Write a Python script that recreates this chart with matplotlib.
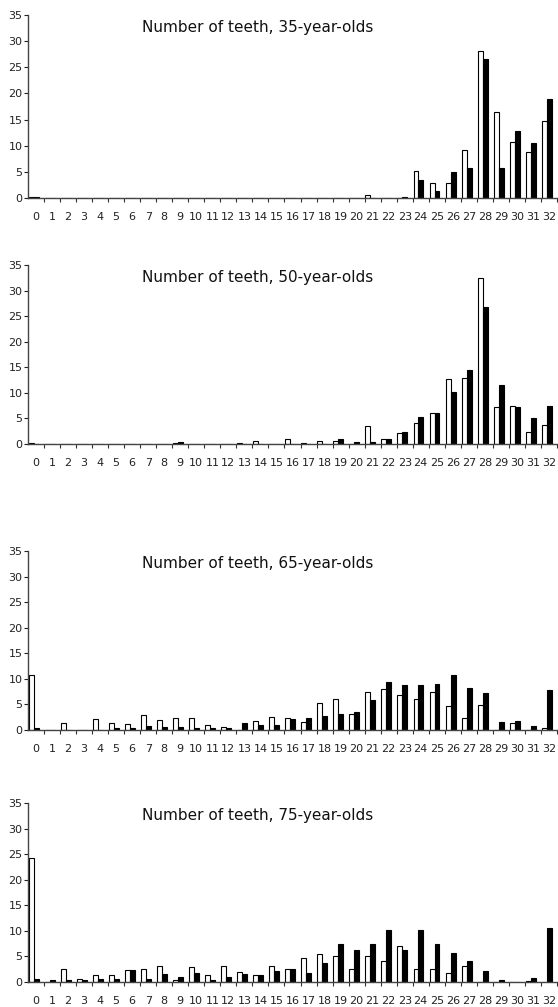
import matplotlib.pyplot as plt
import numpy as np

# number of remaining teeth, 0..32
teeth = list(range(33))
tick_labels = [str(t) for t in teeth]
titles = ['Number of teeth, 35-year-olds', 'Number of teeth, 50-year-olds',
          'Number of teeth, 65-year-olds', 'Number of teeth, 75-year-olds']

# percent of group, open bars and filled bars
w35 = [0.2, 0, 0, 0, 0, 0, 0, 0, 0, 0, 0, 0, 0, 0, 0, 0, 0, 0, 0, 0, 0,
       0.5, 0, 0, 5.1, 2.8, 2.8, 9.1, 28.2, 16.5, 10.8, 8.8, 14.8]
b35 = [0.2, 0, 0, 0, 0, 0, 0, 0, 0, 0, 0, 0, 0, 0, 0, 0, 0, 0, 0, 0, 0,
       0, 0, 0.2, 3.4, 1.4, 4.9, 5.7, 26.6, 5.7, 12.9, 10.6, 18.9]

w50 = [0.2, 0, 0, 0, 0, 0, 0, 0, 0, 0.2, 0, 0, 0, 0.2, 0.6, 0, 0.9, 0.2, 0.6, 0.6, 0,
       3.5, 0.9, 2.1, 4.1, 6.1, 12.7, 13.0, 32.4, 7.2, 7.5, 2.3, 3.8]
b50 = [0, 0, 0, 0, 0, 0, 0, 0, 0, 0.3, 0, 0, 0, 0, 0, 0, 0, 0, 0, 0.9, 0.3,
       0.3, 0.9, 2.4, 5.2, 6.1, 10.1, 14.5, 26.7, 11.6, 7.2, 5.0, 7.5]

w65 = [10.7, 0, 1.4, 0, 2.1, 1.4, 1.1, 2.9, 1.9, 2.3, 2.3, 1.0, 0.6, 0, 1.8, 2.6, 2.3,
       1.6, 5.2, 6.0, 3.1, 7.5, 8.1, 6.9, 6.0, 7.5, 4.7, 2.3, 4.9, 0, 1.4, 0, 0.3]
b65 = [0.3, 0, 0, 0, 0, 0.3, 0.3, 0.8, 0.6, 0.5, 0.3, 0.3, 0.3, 1.3, 1.0, 0.9, 2.1,
       2.3, 2.7, 3.2, 3.5, 5.8, 9.4, 8.8, 8.8, 9.0, 10.7, 8.2, 7.3, 1.5, 1.7, 0.8, 7.8]

w75 = [24.3, 0, 2.6, 0.6, 1.4, 1.4, 2.4, 2.6, 3.2, 0.3, 2.9, 1.4, 3.2, 2.0, 1.4, 3.2, 2.6,
       4.7, 5.5, 5.0, 2.6, 5.0, 4.2, 7.0, 2.6, 2.6, 1.8, 3.2, 0, 0, 0, 0.2, 0]
b75 = [0.5, 0.3, 0.3, 0.3, 0.6, 0.6, 2.4, 0.6, 1.5, 0.9, 1.8, 0.3, 0.9, 1.5, 1.4, 2.1, 2.6,
       1.8, 3.8, 7.4, 6.2, 7.4, 10.2, 6.2, 10.2, 7.4, 5.6, 4.1, 2.1, 0.3, 0, 0.85, 10.5]

open_series = [w35, w50, w65, w75]
filled_series = [b35, b50, b65, b75]

W, H = 558, 1007
# (top of axis, zero line) in pixels for each panel
panel_px = [(15, 198), (265, 444), (551, 730), (803, 982)]
left_px, right_px = 28, 557

plt.rcParams['font.family'] = ['DejaVu Sans']
fig = plt.figure(figsize=(W / 100, H / 100), dpi=100)

x = np.arange(33)
for i in range(4):
    top, zero = panel_px[i]
    ax = fig.add_axes([left_px / W, 1 - zero / H, (right_px - left_px) / W, (zero - top) / H])
    ax.bar(x + 0.05, open_series[i], width=0.31, align='edge',
           color='white', edgecolor='black', linewidth=0.8)
    ax.bar(x + 0.36, filled_series[i], width=0.31, align='edge',
           color='black', edgecolor='black', linewidth=0.8)
    ax.set_xlim(0, 33)
    ax.set_ylim(0, 35)
    ax.set_yticks(range(0, 36, 5))
    ax.set_xticks(x + 0.5)
    ax.set_xticklabels(tick_labels)
    ax.set_xticks(np.arange(1, 34), minor=True)
    ax.tick_params(axis='x', which='major', length=0, pad=10, labelsize=8, colors='#222222')
    ax.tick_params(axis='x', which='minor', length=3, width=0.8, color='#333333')
    ax.tick_params(axis='y', length=3, width=0.8, pad=1, labelsize=8, colors='#222222')
    for s in ['top', 'right']:
        ax.spines[s].set_visible(False)
    ax.spines['left'].set_color('#444444')
    ax.spines['bottom'].set_color('#444444')
    ax.spines['left'].set_linewidth(1.0)
    ax.spines['bottom'].set_linewidth(1.0)
    ax.set_facecolor('none')
    ax.text(0.435, 0.93, titles[i], transform=ax.transAxes, ha='center', va='center',
            fontsize=11, color='#111111')

fig.savefig('out.png', dpi=100)
